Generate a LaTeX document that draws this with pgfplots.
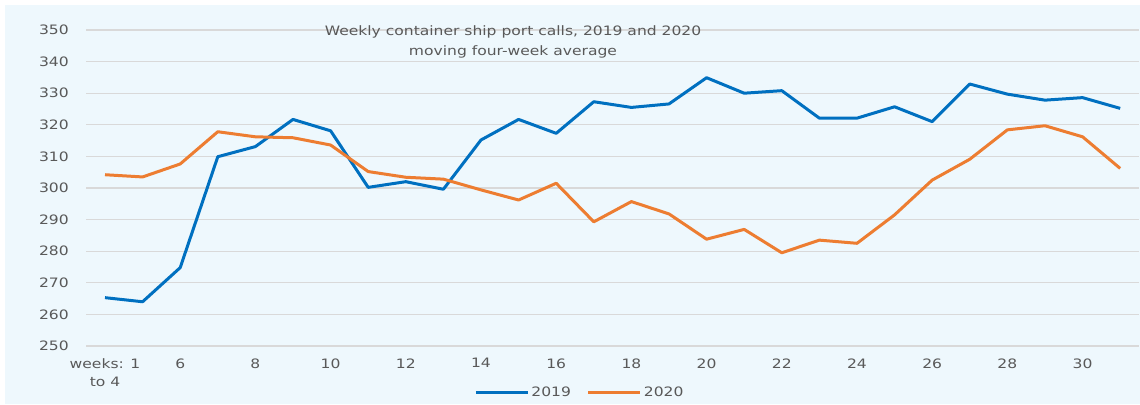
\documentclass[border=0pt]{standalone}
\usepackage{fontspec}
\setmainfont{DejaVu Sans}[FakeStretch=1.2]
\usepackage{pgfplots}
\usepackage{pgfplotstable}
\pgfplotsset{compat=1.18}
\definecolor{bg}{RGB}{238,248,253}
\definecolor{gridc}{RGB}{217,217,217}
\definecolor{c19}{RGB}{0,112,192}
\definecolor{c20}{RGB}{237,125,49}
\definecolor{txt}{RGB}{89,89,89}
\pgfplotstableread{
x y
0 265.3
1 264.0
2 274.8
3 309.9
4 313.1
5 321.7
6 318.1
7 300.2
8 302.0
9 299.6
10 315.2
11 321.7
12 317.3
13 327.3
14 325.5
15 326.6
16 334.9
17 330.0
18 330.8
19 322.1
20 322.1
21 325.7
22 321.0
23 332.9
24 329.7
25 327.8
26 328.6
27 325.2
}\tabA
\pgfplotstableread{
x y
0 304.2
1 303.5
2 307.6
3 317.8
4 316.2
5 315.9
6 313.6
7 305.2
8 303.4
9 302.8
10 299.4
11 296.2
12 301.5
13 289.3
14 295.7
15 291.8
16 283.8
17 286.9
18 279.5
19 283.5
20 282.5
21 291.5
22 302.5
23 309.1
24 318.4
25 319.7
26 316.2
27 306.2
}\tabB
\begin{document}
\begin{tikzpicture}[x=1bp,y=1bp]
\useasboundingbox (0,0) rectangle (1140,404);
\fill[white] (0,0) rectangle (1140,404);
\fill[bg] (5,0) rectangle (1140,399);
\begin{axis}[
  at={(86.2bp,58bp)}, anchor=south west,
  scale only axis, width=1052.8bp, height=316bp,
  xmin=-0.5, xmax=27.5, ymin=250, ymax=350,
  ytick={250,260,...,350},
  xtick={0,2,...,26},
  xticklabels={{weeks: 1\\to 4},6,8,10,12,14,16,18,20,22,24,26,28,30},
  axis line style={draw=none},
  major tick length=0pt,
  tick style={draw=none},
  ymajorgrids,
  grid style={gridc, line width=1.2bp},
  tick label style={font=\fontsize{13}{18}\selectfont, text=txt},
  yticklabel style={xshift=-14bp},
  xticklabel style={align=center, yshift=-9bp},
  /pgf/number format/assume math mode=true,
  legend style={at={(0.469,-0.146)}, anchor=center, draw=none, fill=none,
    legend columns=2, font=\fontsize{13}{16}\selectfont, text=txt,
    /tikz/every even column/.append style={column sep=14bp}},
  legend image code/.code={\draw[#1] (0bp,0bp) -- (52bp,0bp);},
]
\addplot[c19, line width=3bp, line join=round] table[x=x,y=y] {\tabA};
\addlegendentry{2019}
\addplot[c20, line width=3bp, line join=round] table[x=x,y=y] {\tabB};
\addlegendentry{2020}
\end{axis}
\node[align=center, text=txt, font=\fontsize{13}{20}\selectfont] at (513,362) {Weekly container ship port calls, 2019 and 2020\\moving four-week average};
\end{tikzpicture}
\end{document}
